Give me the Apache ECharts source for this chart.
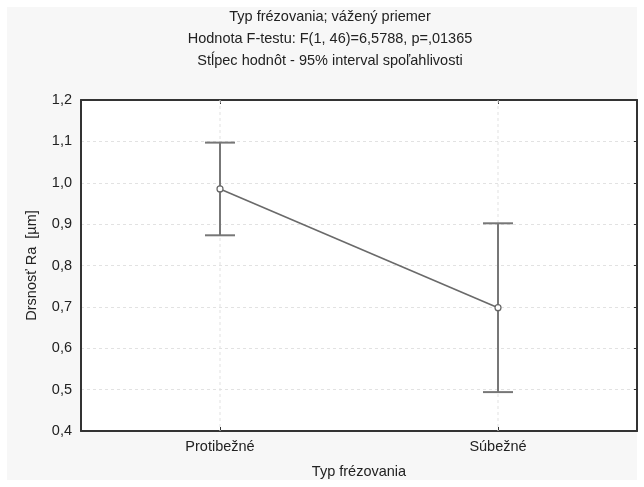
<!DOCTYPE html>
<html><head><meta charset="utf-8">
<script src="https://cdn.jsdelivr.net/npm/echarts@6/dist/echarts.min.js"></script>
<style>html,body{margin:0;padding:0;background:#fff}#c{width:644px;height:487px}</style>
</head><body><div id="c"></div>
<script>
const categories = ['Protibežné', 'Súbežné'];
const means = [0.985, 0.698];
const lower = [0.873, 0.494];
const upper = [1.097, 0.902];
const yTicks = [0.4, 0.5, 0.6, 0.7, 0.8, 0.9, 1.0, 1.1, 1.2];
const titleLines = ['Typ frézovania; vážený priemer', 'Hodnota F-testu: F(1, 46)=6,5788, p=,01365', 'Stĺpec hodnôt - 95% interval spoľahlivosti'];

const chart = echarts.init(document.getElementById('c'), null, {renderer: 'canvas'});
const font = 'Liberation Sans, Arial, sans-serif';
const fs = 14.5;
const errData = categories.map((c, i) => [i, lower[i], upper[i]]);
const frameLine = {show: true, lineStyle: {color: '#333', width: 2}};
chart.setOption({
  backgroundColor: '#fff',
  animation: false,
  graphic: [{type: 'rect', z: -10, shape: {x: 7, y: 7, width: 630, height: 473}, style: {fill: '#f7f7f7'}}],
  title: titleLines.map((t, i) => ({
    text: t, left: 325, top: 4 + i * 22, textAlign: 'center',
    textStyle: {fontFamily: font, fontSize: fs, fontWeight: 'normal', color: '#222'}
  })),
  grid: {left: 81, right: 7, top: 100, bottom: 56, show: true, backgroundColor: '#fff', borderWidth: 0},
  xAxis: [{
    type: 'category', data: categories, boundaryGap: true, position: 'bottom',
    name: 'Typ frézovania', nameLocation: 'middle', nameGap: 33,
    nameTextStyle: {fontFamily: font, fontSize: fs, color: '#222'},
    axisLine: frameLine,
    axisTick: {show: true, inside: true, alignWithLabel: true, length: 4, lineStyle: {color: '#333'}},
    axisLabel: {fontFamily: font, fontSize: fs, color: '#222', margin: 8, interval: 0},
    splitLine: {show: false}
  }, {
    type: 'category', data: categories, boundaryGap: true, position: 'top',
    axisLine: frameLine,
    axisTick: {show: true, inside: true, alignWithLabel: true, length: 4, lineStyle: {color: '#333'}},
    axisLabel: {show: false}, splitLine: {show: false}
  }],
  yAxis: [{
    type: 'value', min: 0.4, max: 1.2, interval: 0.1, position: 'left',
    name: 'Drsnosť Ra  [µm]', nameLocation: 'middle', nameGap: 42, nameRotate: 90,
    nameTextStyle: {fontFamily: font, fontSize: fs, color: '#222'},
    axisLine: frameLine,
    axisTick: {show: false},
    axisLabel: {fontFamily: font, fontSize: fs, color: '#222', margin: 9,
      formatter: v => v.toFixed(1).replace('.', ',')},
    splitLine: {show: true, lineStyle: {color: '#e2e2e2', type: [3, 3]}}
  }, {
    type: 'value', min: 0.4, max: 1.2, interval: 0.1, position: 'right',
    axisLine: frameLine,
    axisTick: {show: true, inside: true, length: 3, lineStyle: {color: '#333'}},
    axisLabel: {show: false}, splitLine: {show: false}
  }],
  series: [
    {
      type: 'custom', data: errData, z: 3,
      renderItem: (params, api) => {
        const x = api.value(0);
        const lo = api.coord([x, api.value(1)]);
        const hi = api.coord([x, api.value(2)]);
        const cs = params.coordSys;
        const w = 15;
        const st = {stroke: '#777', lineWidth: 2};
        return {type: 'group', children: [
          {type: 'line', shape: {x1: lo[0], y1: cs.y, x2: lo[0], y2: cs.y + cs.height},
            style: {stroke: '#e2e2e2', lineWidth: 1, lineDash: [3, 3]}},
          {type: 'line', shape: {x1: lo[0], y1: lo[1], x2: hi[0], y2: hi[1]}, style: st},
          {type: 'line', shape: {x1: lo[0] - w, y1: lo[1], x2: lo[0] + w, y2: lo[1]}, style: st},
          {type: 'line', shape: {x1: hi[0] - w, y1: hi[1], x2: hi[0] + w, y2: hi[1]}, style: st}
        ]};
      }
    },
    {
      type: 'line', data: means, z: 5,
      symbol: 'circle', symbolSize: 6,
      itemStyle: {color: '#fff', borderColor: '#666', borderWidth: 1.2},
      lineStyle: {color: '#6a6a6a', width: 1.6}
    }
  ]
});
</script></body></html>
